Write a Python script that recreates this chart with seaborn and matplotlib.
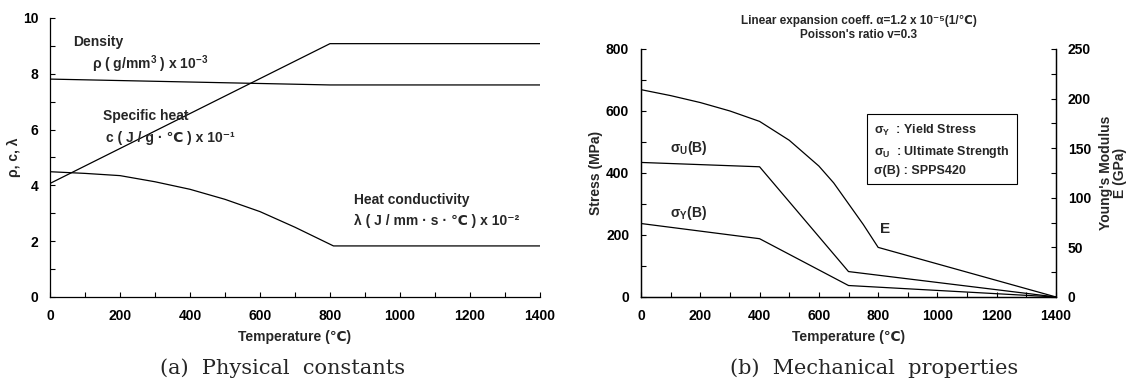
import numpy as np
import pandas as pd
import matplotlib
matplotlib.use("Agg")
import matplotlib.pyplot as plt
import seaborn as sns

# -------------------------------
# Data
# -------------------------------
# (a) physical constants
temp_c = [0, 800, 1400]
specific_heat = [4.07, 9.08, 9.08]
temp_rho = [0, 800, 1400]
density = [7.81, 7.60, 7.60]
temp_lam = [0, 100, 200, 300, 400, 500, 600, 700, 810, 1400]
conductivity = [4.49, 4.43, 4.35, 4.13, 3.86, 3.50, 3.06, 2.50, 1.83, 1.83]

# (b) mechanical properties
temp_sig = [0, 400, 700, 1400]
sigma_u = [434, 420, 82, 0]
sigma_y = [237, 188, 37, 0]
temp_e = [0, 100, 200, 300, 400, 500, 600, 650, 700, 750, 800, 1400]
young_e = [209, 203, 196, 187.5, 177, 158, 132, 115, 94, 73, 50, 0]

# -------------------------------
# Style
# -------------------------------
sns.set_style("ticks")
plt.rcParams['font.family'] = ['Liberation Sans', 'DejaVu Sans']
plt.rcParams['font.weight'] = 'bold'
plt.rcParams['axes.labelweight'] = 'bold'
plt.rcParams['mathtext.fontset'] = 'custom'
plt.rcParams['mathtext.rm'] = 'Liberation Sans:bold'
plt.rcParams['mathtext.it'] = 'Liberation Sans:bold'
plt.rcParams['mathtext.bf'] = 'Liberation Sans:bold'
plt.rcParams['axes.linewidth'] = 0.9
plt.rcParams['axes.edgecolor'] = 'black'

FS = 10
fig = plt.figure(figsize=(11.42, 3.86), dpi=100)


def style_ticks(ax):
    ax.tick_params(axis='both', which='both', direction='in', colors='black',
                   labelsize=FS, width=0.8, pad=8.5)
    ax.tick_params(which='major', length=3.5)
    ax.tick_params(which='minor', length=3.5)


# -------------------------------
# (a) Physical constants
# -------------------------------
ax1 = fig.add_axes([0.0438, 0.2306, 0.429, 0.7228])
sns.lineplot(x=temp_c, y=specific_heat, ax=ax1, color='black', lw=0.9)
sns.lineplot(x=temp_rho, y=density, ax=ax1, color='black', lw=0.9)
sns.lineplot(x=temp_lam, y=conductivity, ax=ax1, color='black', lw=0.9)
ax1.set_xlim(0, 1400)
ax1.set_ylim(0, 10)
ax1.set_xticks(np.arange(0, 1401, 200))
ax1.set_xticks(np.arange(0, 1401, 100), minor=True)
ax1.set_yticks(np.arange(0, 11, 2))
ax1.set_yticks(np.arange(0, 11, 1), minor=True)
style_ticks(ax1)
sns.despine(ax=ax1)
ax1.set_xlabel("Temperature (℃)", fontsize=FS, labelpad=5)
ax1.set_ylabel("ρ, c, λ", fontsize=FS, labelpad=1)

ax1.text(65, 9.13, "Density", fontsize=FS, va='center')
ax1.text(121, 8.36, "ρ ( g/mm$^{3}$ ) x 10$^{-3}$", fontsize=FS, va='center')
ax1.text(150, 6.48, "Specific heat", fontsize=FS, va='center')
ax1.text(161, 5.71, "c ( J / g · ℃ ) x 10⁻¹", fontsize=FS, va='center')
ax1.text(870, 3.48, "Heat conductivity", fontsize=FS, va='center')
ax1.text(870, 2.71, "λ ( J / mm · s · ℃ ) x 10⁻²", fontsize=FS, va='center')

# -------------------------------
# (b) Mechanical properties
# -------------------------------
ax2 = fig.add_axes([0.5613, 0.2306, 0.3634, 0.6425])
sns.lineplot(x=temp_sig, y=sigma_u, ax=ax2, color='black', lw=0.9)
sns.lineplot(x=temp_sig, y=sigma_y, ax=ax2, color='black', lw=0.9)
ax2.set_xlim(0, 1400)
ax2.set_ylim(0, 800)
ax2.set_xticks(np.arange(0, 1401, 200))
ax2.set_xticks(np.arange(0, 1401, 100), minor=True)
ax2.set_yticks(np.arange(0, 801, 200))
ax2.set_yticks(np.arange(0, 801, 100), minor=True)
style_ticks(ax2)
ax2.spines['top'].set_visible(False)
ax2.set_xlabel("Temperature (℃)", fontsize=FS, labelpad=5)
ax2.set_ylabel("Stress (MPa)", fontsize=FS, labelpad=2)

ax3 = ax2.twinx()
sns.lineplot(x=temp_e, y=young_e, ax=ax3, color='black', lw=0.9)
ax3.set_ylim(0, 250)
ax3.set_yticks(np.arange(0, 251, 50))
ax3.set_yticks(np.arange(0, 251, 25), minor=True)
style_ticks(ax3)
ax3.spines['top'].set_visible(False)
ax3.set_ylabel("Young's Modulus\nE (GPa)", fontsize=FS, labelpad=6,
               linespacing=1.0)

ax2.text(97, 479, "σ$_{\\mathrm{U}}$(B)", fontsize=FS, va='center')
ax2.text(97, 272, "σ$_{\\mathrm{Y}}$(B)", fontsize=FS, va='center')
ax2.text(805, 218, "E", fontsize=FS + 1, va='center')
ax2.text(787, 562,
         "σ$_{\\mathrm{Y}}$  : Yield Stress\n"
         "σ$_{\\mathrm{U}}$  : Ultimate Strength\n"
         "σ(B) : SPPS420  ",
         fontsize=9, va='top', ha='left', linespacing=1.55,
         bbox=dict(boxstyle='square,pad=0.6', fc='white', ec='black', lw=0.8))

fig.text(0.752, 0.946, "Linear expansion coeff. α=1.2 x 10⁻⁵(1/℃)",
         fontsize=8.5, ha='center', va='center')
fig.text(0.752, 0.909, "Poisson's ratio v=0.3",
         fontsize=8.5, ha='center', va='center')

# -------------------------------
# Captions
# -------------------------------
fig.text(0.247, 0.045, "(a)  Physical  constants", family='DejaVu Serif',
         fontweight='normal', fontsize=15, ha='center', va='center')
fig.text(0.765, 0.045, "(b)  Mechanical  properties", family='DejaVu Serif',
         fontweight='normal', fontsize=15, ha='center', va='center')

fig.savefig("out.png", dpi=100)
